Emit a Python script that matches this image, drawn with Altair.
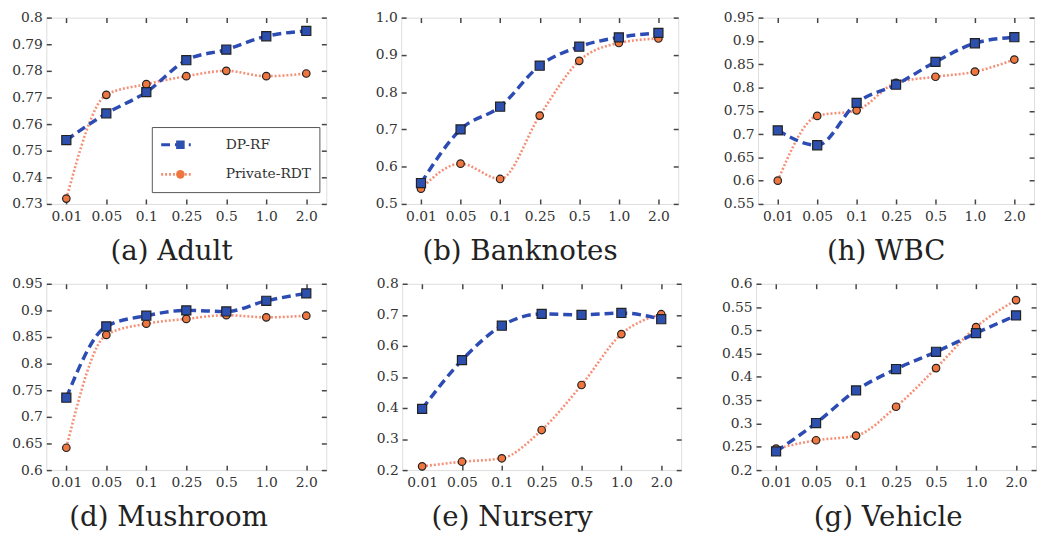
import altair as alt
import pandas as pd

# Privacy budgets (x axis) and the two methods
eps = ["0.01", "0.05", "0.1", "0.25", "0.5", "1.0", "2.0"]
methods = ["DP-RF", "Private-RDT"]

# Accuracy per dataset
adult_dprf = [0.754, 0.764, 0.772, 0.784, 0.788, 0.793, 0.795]
adult_rdt = [0.732, 0.771, 0.775, 0.778, 0.780, 0.778, 0.779]
adult_ticks = [0.73, 0.74, 0.75, 0.76, 0.77, 0.78, 0.79, 0.80]

bank_dprf = [0.556, 0.700, 0.761, 0.871, 0.922, 0.947, 0.959]
bank_rdt = [0.541, 0.608, 0.567, 0.737, 0.884, 0.932, 0.944]
bank_ticks = [0.5, 0.6, 0.7, 0.8, 0.9, 1.0]

wbc_dprf = [0.708, 0.676, 0.767, 0.806, 0.855, 0.895, 0.908]
wbc_rdt = [0.600, 0.739, 0.751, 0.810, 0.823, 0.834, 0.860]
wbc_ticks = [0.55, 0.60, 0.65, 0.70, 0.75, 0.80, 0.85, 0.90, 0.95]

mush_dprf = [0.736, 0.870, 0.890, 0.900, 0.898, 0.918, 0.932]
mush_rdt = [0.642, 0.854, 0.875, 0.884, 0.891, 0.887, 0.890]
mush_ticks = [0.60, 0.65, 0.70, 0.75, 0.80, 0.85, 0.90, 0.95]

nurs_dprf = [0.397, 0.554, 0.665, 0.703, 0.700, 0.706, 0.686]
nurs_rdt = [0.212, 0.227, 0.238, 0.329, 0.474, 0.638, 0.702]
nurs_ticks = [0.2, 0.3, 0.4, 0.5, 0.6, 0.7, 0.8]

veh_dprf = [0.240, 0.301, 0.371, 0.417, 0.454, 0.494, 0.532]
veh_rdt = [0.246, 0.264, 0.274, 0.336, 0.419, 0.507, 0.565]
veh_ticks = [0.20, 0.25, 0.30, 0.35, 0.40, 0.45, 0.50, 0.55, 0.60]

SERIF = "DejaVu Serif"
BLUE_LINE = "#2c4cb3"
ORANGE_LINE = "#f59077"
BLUE_FILL = "#2d4fae"
ORANGE_FILL = "#f0763f"

# Legend: dashed/dotted strokes with labels ...
legend_lines = alt.Legend(
    title=None, orient="none", legendX=107, legendY=111,
    symbolType="stroke", symbolSize=900, symbolStrokeWidth=3,
    labelFont=SERIF, labelFontSize=14, labelColor="#333", labelOffset=34,
    labelAlign="left", clipHeight=20, rowPadding=10, padding=8,
    strokeColor="#555", zindex=0,
)
# ... and the markers laid over the middle of each stroke (no labels of their own)
legend_marks = alt.Legend(
    title=None, orient="none", legendX=123, legendY=111,
    symbolSize=75, symbolStrokeColor="#222", symbolStrokeWidth=1.2,
    labelExpr="''", labelFontSize=1, clipHeight=20, rowPadding=10, padding=8,
    zindex=1,
)


def panel(title, dprf, rdt, ticks, fmt, width, extent, dx, with_legend=False):
    df = pd.DataFrame({
        "eps": eps * 2,
        "acc": dprf + rdt,
        "method": [methods[0]] * len(eps) + [methods[1]] * len(eps),
    })
    df["marker"] = df["method"]
    xscale = alt.Scale(type="point", padding=0.5)
    yscale = alt.Scale(domain=[ticks[0], ticks[-1]], nice=False, zero=False)
    tick_style = dict(tickSize=5, tickColor="#444", tickWidth=1.5, offset=-5,
                      domain=False, grid=False)

    # bottom/left axes carry the labels; ticks point inward
    x_labelled = alt.Axis(labelAngle=0, labelFont=SERIF, labelFontSize=14,
                          labelColor="#333", labelPadding=6,
                          minExtent=22, maxExtent=22, **tick_style)
    y_labelled = alt.Axis(values=ticks, format=fmt, labelFont=SERIF,
                          labelFontSize=14, labelColor="#333", labelPadding=4,
                          minExtent=extent, maxExtent=extent, **tick_style)
    # mirrored tick-only axes on top/right
    x_mirror = alt.Axis(orient="top", labels=False, **tick_style)
    y_mirror = alt.Axis(orient="right", values=ticks, labels=False, **tick_style)

    def line(name, width_px, xaxis, yaxis):
        return alt.Chart(df).transform_filter(
            alt.datum.method == name
        ).mark_line(interpolate="monotone", strokeWidth=width_px).encode(
            x=alt.X("eps:O", sort=eps, scale=xscale, title=None, axis=xaxis),
            y=alt.Y("acc:Q", scale=yscale, title=None, axis=yaxis),
            color=alt.Color("method:N", scale=alt.Scale(domain=methods, range=[BLUE_LINE, ORANGE_LINE]),
                            legend=legend_lines if with_legend else None),
            strokeDash=alt.StrokeDash("method:N", scale=alt.Scale(domain=methods, range=[[9, 5], [2, 2]]),
                                      legend=legend_lines if with_legend else None),
        )

    def markers(name, size, xaxis, yaxis):
        return alt.Chart(df).transform_filter(
            alt.datum.marker == name
        ).mark_point(filled=True, opacity=1, size=size, stroke="#222", strokeWidth=1.2).encode(
            x=alt.X("eps:O", sort=eps, scale=xscale, title=None, axis=xaxis),
            y=alt.Y("acc:Q", scale=yscale, title=None, axis=yaxis),
            fill=alt.Fill("marker:N", scale=alt.Scale(range=[BLUE_FILL, ORANGE_FILL]),
                          legend=legend_marks if with_legend else None),
            shape=alt.Shape("marker:N", scale=alt.Scale(range=["square", "circle"]),
                            legend=legend_marks if with_legend else None),
        )

    return alt.layer(
        line(methods[1], 2.6, x_labelled, y_labelled),
        line(methods[0], 3.5, None, None),
        markers(methods[1], 58, x_mirror, y_mirror),
        markers(methods[0], 85, None, None),
    ).resolve_axis(x="independent", y="independent").properties(
        width=width, height=189,
        title=alt.TitleParams(title, orient="bottom", font=SERIF, fontSize=28,
                              fontWeight="normal", color="#222", offset=15, dx=dx),
    )


row1 = alt.hconcat(
    panel("(a) Adult", adult_dprf, adult_rdt, adult_ticks, ".2~f", 284, 40, -15, with_legend=True),
    panel("(b) Banknotes", bank_dprf, bank_rdt, bank_ticks, ".1f", 281, 40, -20),
    panel("(h) WBC", wbc_dprf, wbc_rdt, wbc_ticks, ".2~f", 280, 45, -10),
    spacing=38,
)
row2 = alt.hconcat(
    panel("(d) Mushroom", mush_dprf, mush_rdt, mush_ticks, ".2~f", 284, 40, -18),
    panel("(e) Nursery", nurs_dprf, nurs_rdt, nurs_ticks, ".1f", 283, 41, -30),
    panel("(g) Vehicle", veh_dprf, veh_rdt, veh_ticks, ".2~f", 284, 19, -8),
    spacing=38,
)

chart = alt.vconcat(row1, row2, spacing=9).properties(
    padding={"left": 11, "top": 6, "right": 0, "bottom": 0},
).configure_view(
    stroke="#333", strokeWidth=1.8,
).configure_legend(
    strokeWidth=1.5,
).configure(background="white")

chart.save("out.html", embed_options={"renderer": "svg", "actions": False})
